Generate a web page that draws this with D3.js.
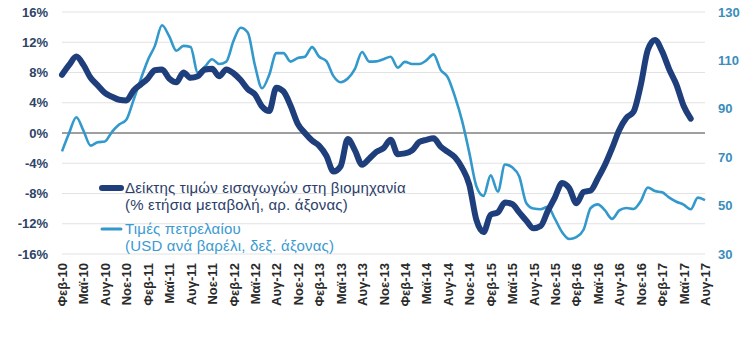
<!DOCTYPE html>
<html>
<head>
<meta charset="utf-8">
<script src="https://cdn.jsdelivr.net/npm/d3@7"></script>
<style>
	body { margin: 0; background: #ffffff; }
	text { font-family: "Liberation Sans", Arial, sans-serif; }
</style>
</head>
<body>
<div id="import-chart"></div>
<script>

// Greek month abbreviations, series runs Feb-10 .. Aug-17
const month_names = ["Ιαν", "Φεβ", "Μαρ", "Απρ", "Μαϊ", "Ιουν", "Ιουλ", "Αυγ", "Σεπ", "Οκτ", "Νοε", "Δεκ"];

// Import price index in industry (% yoy, left axis), ends Jun-17
const import_prices = [
	7.7, 9.0, 10.1, 9.0, 7.3, 6.3, 5.3, 4.8, 4.4, 4.3, 5.6, 6.4,
	7.2, 8.3, 8.4, 7.2, 6.7, 8.0, 7.3, 7.5, 8.4, 8.5, 7.5, 8.4,
	7.9, 7.0, 5.8, 5.1, 3.5, 2.9, 6.0, 5.5, 3.6, 1.2, 0.0, -1.0,
	-1.7, -3.0, -5.1, -4.4, -0.8, -2.3, -4.2, -3.4, -2.5, -2.0, -0.9, -2.8,
	-2.7, -2.3, -1.2, -0.9, -0.7, -1.8, -2.5, -3.2, -4.6, -6.8, -11.5, -13.1,
	-10.8, -10.5, -9.2, -9.4, -10.5, -11.6, -12.6, -12.3, -10.3, -8.5, -6.6, -7.3,
	-9.3, -7.8, -7.6, -6.0, -4.2, -2.0, 0.4, 2.0, 2.8, 6.3, 11.0, 12.3,
	10.8, 8.4, 6.4, 3.6, 1.9
];

// Oil prices (USD per barrel, right axis)
const oil_prices = [
	72.4, 80, 86.5, 81, 74.8, 76.2, 76.5, 80.5, 83.5, 85.5, 93.5, 102,
	110, 116, 124.5, 120, 114, 116, 115.5, 105, 107.4, 110.5, 108.5, 109.5,
	118, 123.5, 121.5, 108, 98.5, 104, 113, 113, 109.5, 111, 111.5, 115.5,
	111.5, 109.7, 103.5, 101, 102.5, 106.5, 113.5, 109.5, 109.6, 110.5, 111.5, 107,
	109.4, 108.5, 108.5, 110, 112.5, 106.1, 103, 95, 85, 72, 58, 54,
	62.5, 55.8, 67, 65.8, 62, 51, 48.8, 48.5, 49.5, 44.5, 39, 36.2,
	37, 40, 49, 50.5, 48, 44.5, 48, 49, 48.6, 51.8, 57.5, 56,
	55.5, 53.3, 51.6, 50.4, 48.5, 53.3, 52.3
];

const left_ticks = [-16, -12, -8, -4, 0, 4, 8, 12, 16];
const right_ticks = [30, 50, 70, 90, 110, 130];

const legend_labels = [
	["Δείκτης τιμών εισαγωγών στη βιομηχανία", "(% ετήσια μεταβολή, αρ. άξονας)"],
	["Τιμές πετρελαίου", "(USD ανά βαρέλι, δεξ. άξονας)"]
];

class ImportPriceChart {

	constructor(element_id) {

		const width = 747, height = 353;
		const plot = {left: 62, right: 705, top: 12, bottom: 254};

		const dark_blue = "#1f3e7c";
		const light_blue = "#3399cc";

		// month categories, Feb-10 first
		const categories = [];
		for (let i = 0; i < oil_prices.length; i++) {
			const m = (1 + i) % 12;
			const y = 10 + Math.floor((1 + i) / 12);
			categories.push(month_names[m] + "-" + y);
		}
		const tick_labels = categories.filter((d, i) => i % 3 === 0);

		const svg = d3.select("#" + element_id)
			.append("svg")
				.attr("width", width)
				.attr("height", height);

		const x_axis = d3.scalePoint()
			.domain(categories)
			.range([plot.left, plot.right]);

		const y_left = d3.scaleLinear()
			.domain([-16, 16])
			.range([plot.bottom, plot.top]);

		const y_right = d3.scaleLinear()
			.domain([30, 130])
			.range([plot.bottom, plot.top]);

		// gridlines
		svg.append("g")
			.selectAll("line")
			.data(left_ticks.filter(d => d !== 0))
			.join("line")
				.attr("x1", plot.left)
				.attr("x2", plot.right)
				.attr("y1", d => y_left(d))
				.attr("y2", d => y_left(d))
				.attr("stroke", "#e2e2e2")
				.attr("stroke-width", 1);

		// left axis labels
		svg.append("g")
			.attr("transform", "translate(48,0)")
			.call(d3.axisLeft(y_left).tickValues(left_ticks).tickSize(0).tickPadding(0).tickFormat(d => d + "%"))
			.call(g => g.select(".domain").remove())
			.selectAll("text")
				.attr("fill", "#2d4467")
				.style("font-size", "13px")
				.style("font-weight", "bold");

		// right axis labels
		svg.append("g")
			.attr("transform", "translate(718,0)")
			.call(d3.axisRight(y_right).tickValues(right_ticks).tickSize(0).tickPadding(0))
			.call(g => g.select(".domain").remove())
			.selectAll("text")
				.attr("fill", "#3a8dbd")
				.style("font-size", "13px")
				.style("font-weight", "bold");

		// x axis labels, rotated
		svg.append("g")
			.attr("transform", "translate(0,263)")
			.call(d3.axisBottom(x_axis).tickValues(tick_labels).tickSize(0).tickPadding(0))
			.call(g => g.select(".domain").remove())
			.selectAll("text")
				.attr("fill", "#2a2a2a")
				.style("font-size", "13px")
				.style("font-weight", "bold")
				.style("text-anchor", "end")
				.attr("dy", "0.35em")
				.attr("dx", "0")
				.attr("y", 0)
				.attr("transform", "rotate(-90)");

		// zero line
		svg.append("line")
			.attr("x1", plot.left)
			.attr("x2", plot.right)
			.attr("y1", y_left(0))
			.attr("y2", y_left(0))
			.attr("stroke", "#7f7f7f")
			.attr("stroke-width", 1.5);

		// oil line
		svg.append("path")
			.datum(oil_prices)
			.attr("fill", "none")
			.attr("stroke", light_blue)
			.attr("stroke-width", 2.6)
			.attr("stroke-linejoin", "round")
			.attr("d", d3.line()
				.curve(d3.curveMonotoneX)
				.x((d, i) => x_axis(categories[i]))
				.y(d => y_right(d)));

		// import price line
		svg.append("path")
			.datum(import_prices)
			.attr("fill", "none")
			.attr("stroke", dark_blue)
			.attr("stroke-width", 6)
			.attr("stroke-linejoin", "round")
			.attr("stroke-linecap", "round")
			.attr("d", d3.line()
				.curve(d3.curveMonotoneX)
				.x((d, i) => x_axis(categories[i]))
				.y(d => y_left(d)));

		//****** Legend ******
		const legend = svg.append("g");
		const entries = [
			{y: 188, color: dark_blue, width: 6, text_color: "#2b3e6a", lines: legend_labels[0]},
			{y: 229, color: light_blue, width: 3, text_color: "#3a9ad2", lines: legend_labels[1]}
		];

		entries.forEach(e => {
			legend.append("line")
				.attr("x1", 102)
				.attr("x2", 121)
				.attr("y1", e.y)
				.attr("y2", e.y)
				.attr("stroke", e.color)
				.attr("stroke-width", e.width)
				.attr("stroke-linecap", "round");

			legend.append("text")
				.attr("x", 125)
				.attr("y", e.y + 5)
				.attr("fill", e.text_color)
				.style("font-size", "15px")
				.style("letter-spacing", "0.2px")
				.text(e.lines[0]);

			legend.append("text")
				.attr("x", 125)
				.attr("y", e.y + 22)
				.attr("fill", e.text_color)
				.style("font-size", "15px")
				.style("letter-spacing", "0.2px")
				.text(e.lines[1]);
		});
	}
}

function whenDocumentLoaded(action) {
	if (document.readyState === "loading") {
		document.addEventListener("DOMContentLoaded", action);
	} else {
		action();
	}
}

whenDocumentLoaded(() => {
	plot_object = new ImportPriceChart('import-chart');
});
</script>
</body>
</html>
